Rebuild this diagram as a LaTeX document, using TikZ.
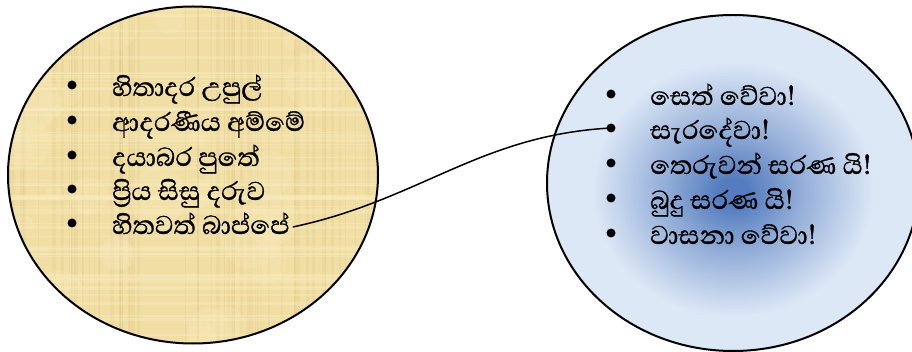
\documentclass[tikz,border=0pt]{standalone}
\usepackage{fontspec}
\newfontfamily\sinhala[Script=Sinhala,FakeBold=0.9]{Abhaya Libre}
\usetikzlibrary{shapes.geometric}
\definecolor{papyrus}{RGB}{241,222,164}
\definecolor{papyrusdark}{RGB}{210,178,115}
\definecolor{papyruslight}{RGB}{250,240,200}
\definecolor{glowin}{RGB}{84,124,190}
\definecolor{glowout}{RGB}{221,232,246}
\pgfdeclareradialshading{blueglow}{\pgfpoint{0bp}{-1.5bp}}{color(0bp)=(glowin); color(2bp)=(glowin); color(9bp)=(glowin!55!glowout); color(19bp)=(glowout); color(50bp)=(glowout)}
\tikzset{
  bubble/.style={ellipse, draw=black, line width=2pt, inner sep=0pt},
  item/.style={font=\sinhala\fontsize{33}{38}\selectfont, anchor=base west, inner sep=0pt},
  bulletdot/.style={circle, fill=black, inner sep=0pt, minimum size=9pt},
  conn/.style={draw=black, line width=1.5pt},
}
\begin{document}
\begin{tikzpicture}[x=1pt,y=-1pt]
\useasboundingbox (0,0) rectangle (912,352);
% left papyrus ellipse
\fill[papyrus] (193,175) ellipse [x radius=185, y radius=168.5];
\begin{scope}
  \clip (193,175) ellipse [x radius=185, y radius=168.5];
  \pgfmathsetseed{11}
  \foreach \i in {1,...,70} {
    \pgfmathsetmacro\xx{8+rnd*370}
    \pgfmathsetmacro\ww{0.5+rnd*3}
    \draw[papyrusdark, opacity=0.13, line width=\ww pt] (\xx,0) -- (\xx,352);
  }
  \foreach \i in {1,...,60} {
    \pgfmathsetmacro\yy{5+rnd*340}
    \pgfmathsetmacro\ww{0.5+rnd*3}
    \draw[papyruslight, opacity=0.30, line width=\ww pt] (0,\yy) -- (400,\yy);
  }
  \foreach \i in {1,...,40} {
    \pgfmathsetmacro\xx{8+rnd*370}
    \pgfmathsetmacro\yy{5+rnd*340}
    \pgfmathsetmacro\rr{8+rnd*25}
    \fill[papyruslight, opacity=0.18] (\xx,\yy) circle [radius=\rr];
  }
\end{scope}
\node[bubble, minimum width=370pt, minimum height=337pt] (L) at (193,175) {};
% right blue ellipse
\node[bubble, shading=blueglow, minimum width=372pt, minimum height=336pt] (R) at (733,183) {};

% left list
\node[bulletdot] (lb1) at (72,85) {};
\node[bulletdot] (lb2) at (72,120) {};
\node[bulletdot] (lb3) at (72,155) {};
\node[bulletdot] (lb4) at (72,189) {};
\node[bulletdot] (lb5) at (72,223) {};
\node[item] (l1) at (112,96) {හිතාදර උපුල්};
\node[item] (l2) at (112,131) {ආදරණීය අම්මේ};
\node[item] (l3) at (112,166) {දයාබර පුතේ};
\node[item] (l4) at (112,200) {ප්‍රිය සිසු දරුව};
\node[item] (l5) at (112,234) {හිතවත් බාප්පේ};

% right list
\node[bulletdot] (rb1) at (611,94) {};
\node[bulletdot] (rb2) at (611,128) {};
\node[bulletdot] (rb3) at (611,163) {};
\node[bulletdot] (rb4) at (611,198) {};
\node[bulletdot] (rb5) at (611,233) {};
\node[item] (r1) at (650,105) {සෙත් වේවා!};
\node[item] (r2) at (650,139) {සැරදේවා!};
\node[item] (r3) at (650,174) {තෙරුවන් සරණ යි!};
\node[item] (r4) at (650,209) {බුදු සරණ යි!};
\node[item] (r5) at (650,244) {වාසනා වේවා!};

% connector
\draw[conn] ([shift={(3,-7)}]l5.base east) .. controls (420,200) and (480,135) .. (rb2.center);
\end{tikzpicture}
\end{document}
